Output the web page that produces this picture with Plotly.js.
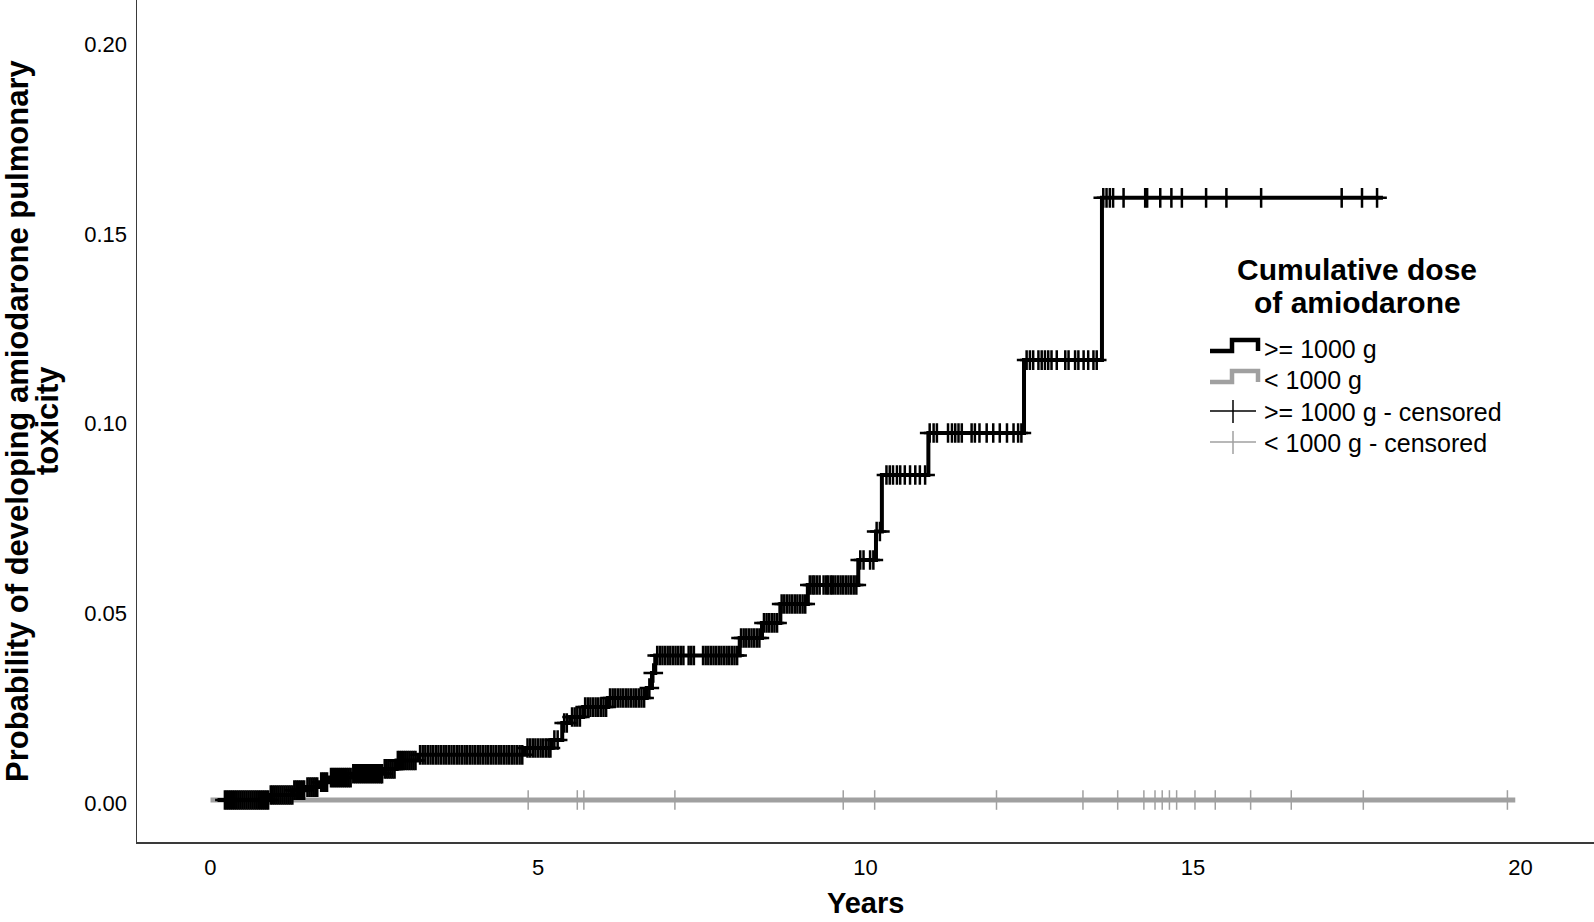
<!DOCTYPE html>
<html>
<head>
<meta charset="utf-8">
<script src="https://cdn.plot.ly/plotly-3.0.1.min.js"></script>
<style>
  html, body { margin: 0; padding: 0; background: #fff; }
  #chart { width: 1594px; height: 922px; }
</style>
</head>
<body>
<div id="chart"></div>
<script>
// ---------- data ----------
const seriesNames = [">= 1000 g", "< 1000 g", ">= 1000 g - censored", "< 1000 g - censored"];
const legendTitleLines = ["Cumulative dose", "of amiodarone"];
const xTitle = "Years";
const yTitleLines = ["Probability of developing amiodarone pulmonary", "toxicity"];

const xTickVals = [0, 5, 10, 15, 20];
const yTickVals = [0.00, 0.05, 0.10, 0.15, 0.20];
const yTickText = ["0.00", "0.05", "0.10", "0.15", "0.20"];

// cumulative dose >= 1000 g : step times and probability after each step
const highTimes = [0.11, 0.90, 1.26, 1.46, 1.67, 1.82, 2.16, 2.64, 2.84, 3.17, 4.80, 5.21, 5.37, 5.49, 5.69,
                   6.07, 6.66, 6.74, 6.79, 8.08, 8.42, 8.70, 9.12, 9.89, 10.16, 10.25, 10.96, 12.42, 13.61, 17.90];
const highProb  = [0.0000, 0.0013, 0.0026, 0.0034, 0.0047, 0.0059, 0.0069, 0.0082, 0.0104, 0.0119, 0.0137, 0.0158, 0.0203, 0.0219, 0.0245,
                   0.0269, 0.0295, 0.0335, 0.0381, 0.0427, 0.0467, 0.0517, 0.0567, 0.0633, 0.0708, 0.0857, 0.0968, 0.1160, 0.1588, 0.1588];

// censored times, >= 1000 g
const highCensor = [0.22,0.25,0.28,0.31,0.34,0.37,0.40,0.43,0.46,0.49,0.52,0.55,0.58,0.61,0.64,0.67,0.70,0.73,0.76,0.79,0.82,0.85,0.88,
  0.92,0.95,0.98,1.01,1.04,1.07,1.10,1.13,1.16,1.19,1.22,1.25,
  1.28,1.31,1.34,1.37,1.40,1.43,
  1.48,1.51,1.54,1.57,1.60,1.63,
  1.69,1.72,1.75,1.78,
  1.84,1.87,1.90,1.93,1.96,1.99,2.02,2.05,2.08,2.11,2.14,
  2.18,2.21,2.24,2.27,2.30,2.33,2.36,2.39,2.42,2.45,2.48,2.51,2.54,2.57,2.60,2.62,
  2.66,2.69,2.72,2.75,2.78,2.81,
  2.86,2.89,2.92,2.95,2.98,3.01,3.04,3.07,3.10,3.13,
  3.20,3.24,3.28,3.32,3.36,3.40,3.44,3.48,3.52,3.56,3.60,3.64,3.68,3.72,3.76,3.80,3.84,3.88,3.92,3.96,
  4.00,4.04,4.08,4.12,4.16,4.20,4.24,4.28,4.32,4.36,4.40,4.44,4.48,4.52,4.56,4.60,4.64,4.68,4.72,4.76,
  4.84,4.88,4.92,4.96,5.00,5.04,5.08,5.12,5.16,5.19,
  5.25,5.30,
  5.40,5.44,
  5.52,5.56,5.60,5.64,
  5.72,5.76,5.80,5.84,5.88,5.92,5.96,6.00,6.04,
  6.10,6.14,6.18,6.22,6.26,6.30,6.34,6.38,6.42,6.46,6.50,6.54,6.58,6.62,
  6.70,6.76,
  6.82,6.86,6.90,6.94,6.98,7.02,7.06,7.10,7.14,7.18,7.22,7.30,7.34,7.38,7.52,7.56,7.60,7.64,7.68,7.72,7.76,7.80,7.84,7.88,7.92,7.96,8.00,8.04,
  8.10,8.14,8.18,8.22,8.26,8.30,8.34,8.38,
  8.45,8.49,8.53,8.57,8.61,8.65,
  8.72,8.76,8.80,8.84,8.88,8.92,8.96,9.00,9.04,9.08,
  9.15,9.19,9.22,9.26,9.30,9.36,9.40,9.43,9.47,9.50,9.54,9.58,9.62,9.66,9.70,9.74,9.78,9.82,9.86,
  9.92,9.97,10.07,10.12,
  10.17,10.22,
  10.32,10.37,10.42,10.48,10.53,10.60,10.68,10.76,10.83,10.91,
  10.98,11.04,11.09,11.26,11.32,11.37,11.42,11.47,11.62,11.67,11.74,11.85,11.95,12.05,12.16,12.26,12.33,12.38,
  12.46,12.51,12.56,12.64,12.69,12.74,12.79,12.84,12.92,13.05,13.10,13.20,13.25,13.33,13.40,13.48,13.53,
  13.63,13.68,13.73,13.78,13.94,14.27,14.30,14.50,14.67,14.83,15.20,15.51,16.04,17.27,17.58,17.81];

// cumulative dose < 1000 g : no events
const lowTimes = [0.00, 19.92];
const lowProb  = [0.0000, 0.0000];
const lowCensor = [4.85, 5.60, 5.70, 7.09, 9.66, 10.14, 12.00, 13.32, 13.85, 14.25, 14.42, 14.53, 14.64, 14.75,
                   15.03, 15.34, 15.88, 16.50, 17.60, 19.80];

// ---------- helpers ----------
function stepValue(times, probs, t) {
  let v = probs[0];
  for (let i = 0; i < times.length; i++) { if (times[i] <= t + 1e-9) v = probs[i]; }
  return v;
}
function censorY(censor, times, probs) { return censor.map(t => stepValue(times, probs, t)); }

const BLACK = '#000000';
const GREY = '#a0a0a0';
const FONT = '"Liberation Sans", Arial, Helvetica, sans-serif';

const W = 1594, H = 922;
const M = { l: 137, r: 0, t: 0, b: 80 };
const plotW = W - M.l - M.r, plotH = H - M.t - M.b;
// pixel -> paper conversions (for legend / title placement only)
const px = x => (x - M.l) / plotW;
const py = y => 1 - (y - M.t) / plotH;

const traces = [
  { x: lowTimes, y: lowProb, type: 'scatter', mode: 'lines', name: seriesNames[1], showlegend: false,
    line: { color: GREY, width: 5, shape: 'hv' } },
  { x: lowCensor, y: censorY(lowCensor, lowTimes, lowProb), type: 'scatter', mode: 'markers', name: seriesNames[3],
    showlegend: false,
    marker: { symbol: 'line-ns-open', size: 14, color: GREY, line: { color: GREY, width: 1.5 } } },
  { x: highTimes, y: highProb, type: 'scatter', mode: 'lines', name: seriesNames[0], showlegend: false,
    line: { color: BLACK, width: 4, shape: 'hv' } },
  { x: highCensor, y: censorY(highCensor, highTimes, highProb), type: 'scatter', mode: 'markers', name: seriesNames[2],
    showlegend: false,
    marker: { symbol: 'cross-thin-open', size: 14, color: BLACK, line: { color: BLACK, width: 2.5 } } }
];

// ---------- legend (drawn as shapes + text) ----------
const legRowsY = [349, 380, 412, 443];
const legSymX0 = 1210, legSymX1 = 1258, legSymMid = 1232, legTextX = 1262;
const legColors = [BLACK, GREY, BLACK, GREY];
const shapes = [];
legRowsY.forEach((yc, i) => {
  if (i < 2) {
    const yb = yc + 2, yt = yc - 9;
    shapes.push({ type: 'path', xref: 'paper', yref: 'paper',
      path: `M${px(legSymX0)},${py(yb)} L${px(legSymMid)},${py(yb)} L${px(legSymMid)},${py(yt)} L${px(legSymX1)},${py(yt)} L${px(legSymX1)},${py(yb)}`,
      line: { color: legColors[i], width: 4.5 }, fillcolor: 'rgba(0,0,0,0)' });
  } else {
    shapes.push({ type: 'line', xref: 'paper', yref: 'paper', x0: px(legSymX0), x1: px(legSymX1 - 2), y0: py(yc - 1), y1: py(yc - 1),
      line: { color: legColors[i], width: 1.5 } });
    shapes.push({ type: 'line', xref: 'paper', yref: 'paper', x0: px(legSymMid + 1), x1: px(legSymMid + 1), y0: py(yc - 12), y1: py(yc + 11),
      line: { color: legColors[i], width: 1.5 } });
  }
});

const annotations = [
  { text: yTitleLines[0], xref: 'paper', yref: 'paper', x: px(17), y: 0.5,
    xanchor: 'center', yanchor: 'middle', textangle: -90, showarrow: false,
    font: { family: FONT, size: 31, weight: 'bold', color: '#000' } },
  { text: yTitleLines[1], xref: 'paper', yref: 'paper', x: px(47), y: 0.5,
    xanchor: 'center', yanchor: 'middle', textangle: -90, showarrow: false,
    font: { family: FONT, size: 31, weight: 'bold', color: '#000' } },
  { text: xTitle, xref: 'paper', yref: 'paper', x: 0.5, y: py(920),
    xanchor: 'center', yanchor: 'bottom', showarrow: false, borderpad: 0,
    font: { family: FONT, size: 29, weight: 'bold', color: '#000' } },
  { text: legendTitleLines[0], xref: 'paper', yref: 'paper', x: px(1357), y: py(270),
    xanchor: 'center', yanchor: 'middle', showarrow: false,
    font: { family: FONT, size: 30, weight: 'bold', color: '#000' } },
  { text: legendTitleLines[1], xref: 'paper', yref: 'paper', x: px(1357), y: py(302),
    xanchor: 'center', yanchor: 'middle', showarrow: false,
    font: { family: FONT, size: 30, weight: 'bold', color: '#000' } }
];
seriesNames.forEach((name, i) => {
  annotations.push({ text: name, xref: 'paper', yref: 'paper', x: px(legTextX), y: py(legRowsY[i]),
    xanchor: 'left', yanchor: 'middle', showarrow: false,
    font: { family: FONT, size: 25, color: '#000' } });
});

const layout = {
  width: W, height: H,
  margin: { l: M.l, r: M.r, t: M.t, b: M.b, pad: 0 },
  paper_bgcolor: '#ffffff', plot_bgcolor: '#ffffff',
  font: { family: FONT, color: '#000000' },
  showlegend: false,
  xaxis: {
    range: [-1.122, 21.122], tickvals: xTickVals, ticktext: xTickVals.map(String),
    showgrid: false, zeroline: false, showline: true, linecolor: '#3a3a3a', linewidth: 1.5,
    ticks: 'outside', ticklen: 5, tickcolor: 'rgba(0,0,0,0)',
    tickfont: { family: FONT, size: 22, color: '#000' },
    fixedrange: true
  },
  yaxis: {
    range: [-0.01108, 0.21097], tickvals: yTickVals, ticktext: yTickText,
    showgrid: false, zeroline: false, showline: true, linecolor: '#3a3a3a', linewidth: 1.5,
    ticks: 'outside', ticklen: 4, tickcolor: 'rgba(0,0,0,0)', ticklabelshift: 3,
    tickfont: { family: FONT, size: 22, color: '#000' },
    fixedrange: true
  },
  shapes: shapes,
  annotations: annotations
};

Plotly.newPlot('chart', traces, layout, { displayModeBar: false, staticPlot: true });
</script>
</body>
</html>
